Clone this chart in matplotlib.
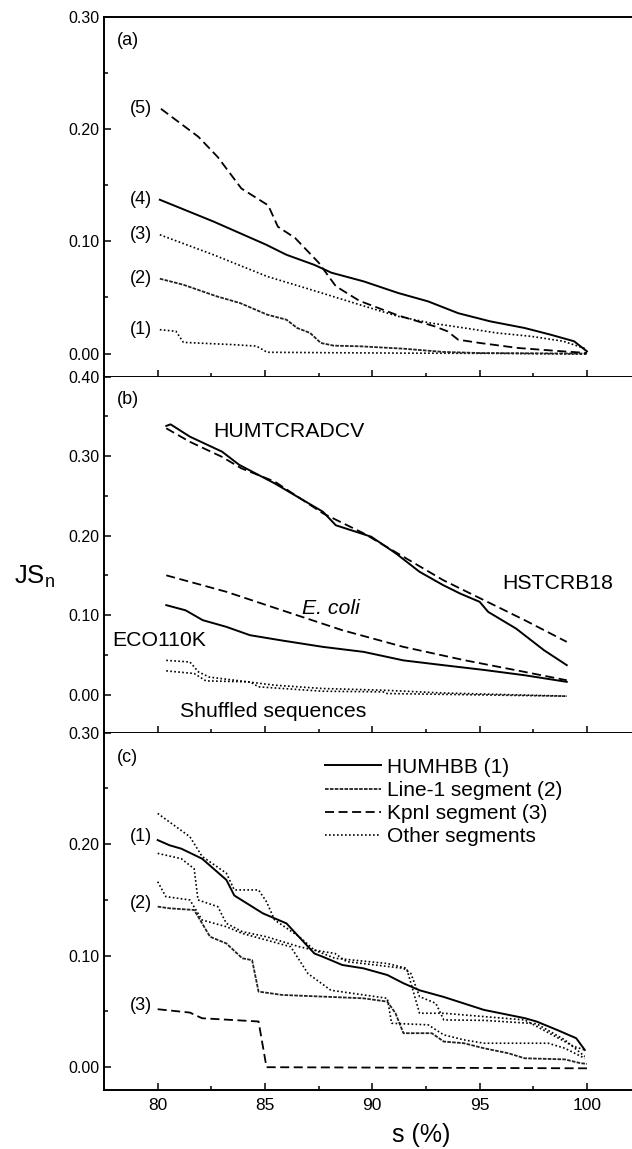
import numpy as np
import matplotlib
matplotlib.use("Agg")
import matplotlib.pyplot as plt
from matplotlib.ticker import MultipleLocator, FormatStrFormatter

plt.rcParams['font.family'] = ['Liberation Sans', 'DejaVu Sans']
plt.rcParams['mathtext.fontset'] = 'custom'
plt.rcParams['mathtext.rm'] = 'Liberation Sans'
plt.rcParams['mathtext.it'] = 'Liberation Sans:italic'

# ---- panel (a): curves (1)..(5)
a1_x = [80.1, 80.85, 81.2, 83.5, 84.6, 85.1, 88.0, 92.0, 96.0, 100.0]
a1_y = [0.0213, 0.0199, 0.010, 0.008, 0.0067, 0.0012, 0.0008, 0.0004, 0.0002, -0.0005]
a2_x = [80.1, 81.2, 82.75, 83.84, 85.1, 86.0, 86.5, 87.1, 87.6, 88.2, 89.45, 91.45, 93.3, 95.0, 100.0]
a2_y = [0.0667, 0.0613, 0.051, 0.045, 0.0347, 0.0302, 0.0228, 0.0184, 0.0095, 0.0071, 0.0065, 0.0044, 0.0015, 0.0005, 0.0]
a3_x = [80.1, 82.6, 85.1, 87.3, 89.5, 91.2, 92.7, 94.3, 95.8, 97.4, 98.9, 100.0]
a3_y = [0.1058, 0.088, 0.0687, 0.056, 0.043, 0.0332, 0.0273, 0.0228, 0.0184, 0.0154, 0.011, 0.004]
a4_x = [80.1, 82.6, 85.05, 86.0, 87.3, 88.1, 89.6, 91.2, 92.6, 94.0, 95.5, 97.1, 98.3, 99.4, 100.0]
a4_y = [0.137, 0.1176, 0.097, 0.088, 0.079, 0.072, 0.0643, 0.054, 0.0465, 0.036, 0.0287, 0.0228, 0.0169, 0.011, 0.002]
a5_x = [80.15, 81.9, 82.8, 83.9, 85.15, 85.6, 86.4, 87.5, 88.3, 89.4, 91.2, 92.9, 93.5, 94.0, 95.0, 96.8, 98.9, 100.0]
a5_y = [0.218, 0.193, 0.175, 0.147, 0.132, 0.113, 0.103, 0.081, 0.060, 0.047, 0.034, 0.0243, 0.0199, 0.0124, 0.0095, 0.005, 0.002, 0.0006]
a_labels = ["(1)", "(2)", "(3)", "(4)", "(5)"]

# ---- panel (b)
humt_x = [80.4, 80.6, 81.5, 83.0, 83.8, 85.45, 87.7, 88.3, 89.95, 91.1, 92.2, 93.3, 94.1, 95.0, 95.4, 96.7, 98.0, 99.06]
humt_y = [0.338, 0.340, 0.3245, 0.3056, 0.289, 0.2657, 0.230, 0.213, 0.1986, 0.1776, 0.1545, 0.1377, 0.127, 0.1167, 0.104, 0.083, 0.0558, 0.037]
hst_x = [80.4, 81.5, 83.0, 83.9, 85.45, 87.7, 89.6, 91.45, 93.3, 95.2, 97.1, 99.06]
hst_y = [0.335, 0.318, 0.299, 0.2846, 0.268, 0.228, 0.2028, 0.1734, 0.144, 0.1188, 0.0936, 0.0663]
ecoli_x = [80.4, 83.2, 85.8, 88.6, 91.45, 94.3, 97.1, 99.06]
ecoli_y = [0.150, 0.1293, 0.106, 0.081, 0.060, 0.0432, 0.0285, 0.018]
eco110k_x = [80.4, 81.3, 82.1, 83.2, 84.3, 85.8, 87.7, 89.6, 91.45, 93.3, 95.2, 97.1, 99.06]
eco110k_y = [0.1125, 0.106, 0.0936, 0.0852, 0.0747, 0.068, 0.060, 0.0537, 0.043, 0.037, 0.031, 0.0243, 0.016]
shuf1_x = [80.4, 81.5, 81.9, 82.4, 83.6, 85.45, 87.7, 90.5, 93.3, 99.06]
shuf1_y = [0.043, 0.041, 0.0285, 0.022, 0.018, 0.0118, 0.0076, 0.0055, 0.002, -0.002]
shuf2_x = [80.4, 81.7, 82.25, 84.3, 84.7, 87.7, 90.5, 90.7, 99.06]
shuf2_y = [0.0298, 0.0265, 0.0172, 0.016, 0.0097, 0.0042, 0.0034, 0.0013, -0.002]

# ---- panel (c)
hbb_x = [80.0, 80.56, 81.1, 82.07, 83.2, 83.57, 84.9, 86.0, 87.3, 87.7, 88.6, 89.58, 90.7, 91.45, 92.2, 93.33, 95.2, 97.1, 97.65, 98.6, 99.5, 99.9]
hbb_y = [0.2037, 0.199, 0.196, 0.187, 0.168, 0.154, 0.138, 0.129, 0.102, 0.099, 0.0917, 0.0887, 0.0827, 0.0753, 0.069, 0.063, 0.0514, 0.044, 0.041, 0.0335, 0.026, 0.0155]
line1_x = [80.0, 80.56, 81.7, 82.07, 82.44, 83.2, 83.94, 84.4, 84.7, 85.8, 87.7, 89.58, 90.7, 91.08, 91.45, 92.77, 93.33, 94.27, 95.2, 96.34, 97.1, 98.97, 99.7, 100.0]
line1_y = [0.144, 0.1425, 0.141, 0.129, 0.117, 0.111, 0.0977, 0.096, 0.0678, 0.0648, 0.0633, 0.0618, 0.0588, 0.0484, 0.0305, 0.0305, 0.023, 0.0215, 0.017, 0.0125, 0.008, 0.007, 0.0036, 0.003]
kpn_x = [80.0, 81.5, 82.07, 84.7, 85.07, 100.0]
kpn_y = [0.052, 0.049, 0.0439, 0.041, 0.0, -0.001]
oth1_x = [80.0, 81.5, 82.07, 83.2, 83.57, 84.7, 85.07, 85.45, 86.6, 87.3, 88.26, 88.8, 91.45, 91.8, 92.2, 92.96, 93.33, 95.2, 97.65, 98.97, 99.9]
oth1_y = [0.2276, 0.2067, 0.189, 0.174, 0.159, 0.159, 0.1484, 0.132, 0.117, 0.105, 0.102, 0.0947, 0.0887, 0.084, 0.0633, 0.0573, 0.0424, 0.042, 0.039, 0.0245, 0.0096]
oth2_x = [80.0, 81.1, 81.7, 81.88, 82.8, 83.2, 83.94, 85.07, 86.6, 87.3, 88.26, 90.7, 91.6, 92.2, 93.33, 95.2, 97.1, 99.4, 99.9]
oth2_y = [0.1918, 0.187, 0.178, 0.150, 0.144, 0.129, 0.1216, 0.117, 0.108, 0.105, 0.0977, 0.093, 0.0887, 0.0484, 0.0484, 0.0454, 0.0424, 0.0185, 0.0155]
oth3_x = [80.0, 80.38, 81.5, 82.07, 83.2, 83.94, 86.2, 87.0, 88.07, 90.7, 90.9, 92.6, 93.33, 94.27, 95.2, 98.2, 98.97, 99.9]
oth3_y = [0.1664, 0.153, 0.150, 0.132, 0.126, 0.120, 0.108, 0.084, 0.069, 0.0618, 0.0394, 0.038, 0.029, 0.0245, 0.0215, 0.0215, 0.017, 0.008]
c_labels = ["(1)", "(2)", "(3)"]
legend_names = ["HUMHBB (1)", "Line-1 segment (2)", "KpnI segment (3)", "Other segments"]

solid = '-'
dashed = (0, (5, 2.5))
dotted = (0, (1, 1.4))
dense = (0, (2, 0.7))

fig = plt.figure(figsize=(6.32, 11.49), dpi=100)
ax_a = fig.add_axes([0.1646, 0.6722, 0.8354, 0.3133])
ax_b = fig.add_axes([0.1646, 0.3623, 0.8354, 0.3099])
ax_c = fig.add_axes([0.1646, 0.0513, 0.8354, 0.3110])

for ax, ylim, top in [(ax_a, (-0.0205, 0.30), 0.30), (ax_b, (-0.048, 0.40), 0.40), (ax_c, (-0.0205, 0.30), 0.30)]:
    ax.set_xlim(77.5, 102.1)
    ax.set_ylim(*ylim)
    ax.spines['right'].set_visible(False)
    for s in ['left', 'bottom', 'top']:
        ax.spines[s].set_linewidth(1.4)
    ax.spines['top'].set_visible(ax is ax_a)
    ax.set_yticks(np.arange(0, top + 0.001, 0.10))
    ax.yaxis.set_major_formatter(FormatStrFormatter('%.2f'))
    ax.yaxis.set_minor_locator(MultipleLocator(0.05))
    ax.set_xticks([80, 85, 90, 95, 100])
    ax.xaxis.set_minor_locator(MultipleLocator(2.5))
    ax.tick_params(which='both', direction='in', top=False, right=False, width=1.1)
    ax.tick_params(which='major', length=5)
    ax.tick_params(which='minor', length=3)
    ax.tick_params(axis='y', pad=3, labelsize=11.5)
    ax.tick_params(axis='x', pad=6, labelsize=12.5)
    if ax is not ax_c:
        ax.tick_params(axis='x', labelbottom=False)

# panel (a)
ax_a.plot(a1_x, a1_y, color='black', lw=1.2, linestyle=dotted)
ax_a.plot(a2_x, a2_y, color='#222222', lw=1.3, linestyle=dense)
ax_a.plot(a3_x, a3_y, color='black', lw=1.2, linestyle=dotted)
ax_a.plot(a4_x, a4_y, color='black', lw=1.4, linestyle=solid)
ax_a.plot(a5_x, a5_y, color='black', lw=1.3, linestyle=dashed)
for lab, ys in zip(a_labels, [a1_y, a2_y, a3_y, a4_y, a5_y]):
    ax_a.text(79.75, ys[0], lab, ha='right', va='center', fontsize=13)
ax_a.text(0.024, 0.935, "(a)", transform=ax_a.transAxes, fontsize=13, ha='left', va='center')

# panel (b)
ax_b.plot(humt_x, humt_y, color='black', lw=1.4, linestyle=solid)
ax_b.plot(hst_x, hst_y, color='black', lw=1.3, linestyle=dashed)
ax_b.plot(ecoli_x, ecoli_y, color='black', lw=1.3, linestyle=dashed)
ax_b.plot(eco110k_x, eco110k_y, color='black', lw=1.4, linestyle=solid)
ax_b.plot(shuf1_x, shuf1_y, color='black', lw=1.2, linestyle=dotted)
ax_b.plot(shuf2_x, shuf2_y, color='black', lw=1.2, linestyle=dotted)
ax_b.text(0.024, 0.935, "(b)", transform=ax_b.transAxes, fontsize=13, ha='left', va='center')
ax_b.text(82.59, 0.331, "HUMTCRADCV", fontsize=15.3, ha='left', va='center')
ax_b.text(96.06, 0.140, "HSTCRB18", fontsize=15.3, ha='left', va='center')
ax_b.text(86.72, 0.1087, "E. coli", fontsize=15.3, ha='left', va='center', style='italic')
ax_b.text(77.9, 0.0684, "ECO110K", fontsize=15.3, ha='left', va='center')
ax_b.text(81.03, -0.0207, "Shuffled sequences", fontsize=15.3, ha='left', va='center')

# panel (c)
h1, = ax_c.plot(hbb_x, hbb_y, color='black', lw=1.4, linestyle=solid)
h2, = ax_c.plot(line1_x, line1_y, color='#222222', lw=1.3, linestyle=dense)
h3, = ax_c.plot(kpn_x, kpn_y, color='black', lw=1.3, linestyle=dashed)
h4, = ax_c.plot(oth1_x, oth1_y, color='black', lw=1.2, linestyle=dotted)
ax_c.plot(oth2_x, oth2_y, color='black', lw=1.2, linestyle=dotted)
ax_c.plot(oth3_x, oth3_y, color='black', lw=1.2, linestyle=dotted)
for lab, ys in zip(c_labels, [hbb_y, line1_y, kpn_y]):
    ax_c.text(79.75, ys[0] + 0.003, lab, ha='right', va='center', fontsize=13)
ax_c.text(0.024, 0.93, "(c)", transform=ax_c.transAxes, fontsize=13, ha='left', va='center')
ax_c.legend([h1, h2, h3, h4], legend_names, loc='upper left', bbox_to_anchor=(0.4176, 0.93),
            frameon=False, fontsize=15, handlelength=2.7, handletextpad=0.3,
            labelspacing=0.2, borderpad=0, borderaxespad=0)

fig.text(0.667, 0.012, "s (%)", fontsize=18, ha='center', va='center')
fig.text(0.055, 1 - 577 / 1149, r"JS$_{\mathrm{n}}$", fontsize=18.5, ha='center', va='center')

fig.savefig("out.png", dpi=100)
